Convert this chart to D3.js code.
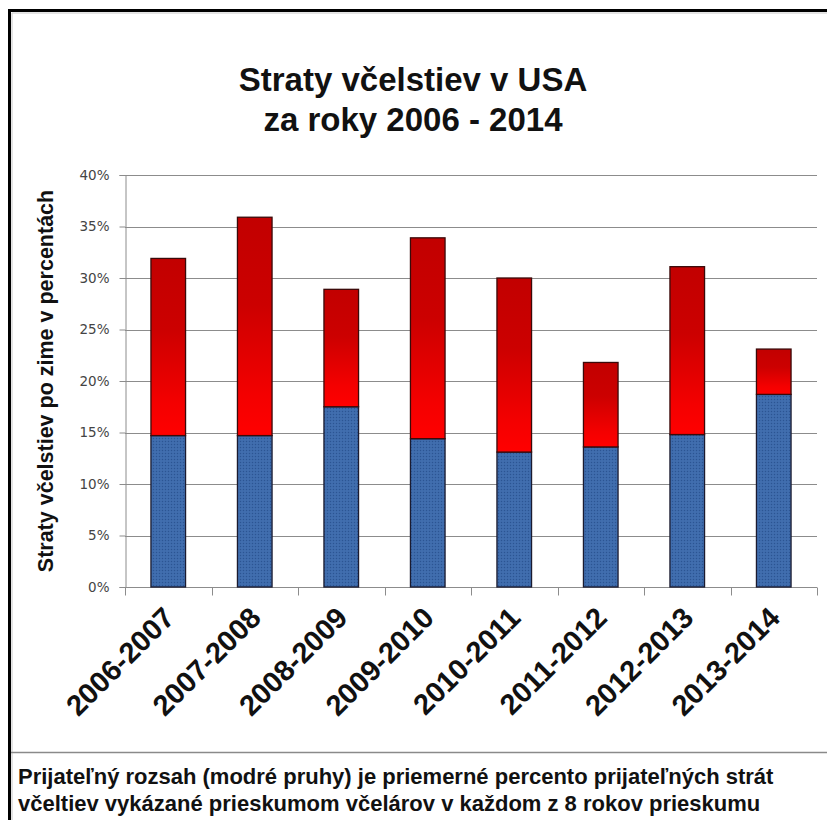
<!DOCTYPE html>
<html>
<head>
<meta charset="utf-8">
<script src="https://cdn.jsdelivr.net/npm/d3@7"></script>
<style>
  body { margin: 0; background: #fff; }
  svg { display: block; }
</style>
</head>
<body>
<div id="chart"></div>
<script>
// data (percent)
const seasons = ["2006-2007", "2007-2008", "2008-2009", "2009-2010",
                 "2010-2011", "2011-2012", "2012-2013", "2013-2014"];
const acceptableLoss = [14.7, 14.7, 17.5, 14.4, 13.1, 13.6, 14.8, 18.7];
const totalLoss = [31.9, 35.9, 28.9, 33.9, 30.0, 21.8, 31.1, 23.1];
const yTicks = [0, 5, 10, 15, 20, 25, 30, 35, 40];

const titleLines = ["Straty včelstiev v USA", "za roky 2006 - 2014"];
const yTitle = "Straty včelstiev po zime v percentách";
const noteLines = [
  "Prijateľný rozsah (modré pruhy) je priemerné percento prijateľných strát",
  "včeltiev vykázané prieskumom včelárov v každom z 8 rokov prieskumu"
];

const width = 827, height = 820;
const margin = { top: 175, right: 10, bottom: 233, left: 125 };

const svg = d3.select("#chart")
  .append("svg")
    .attr("width", width)
    .attr("height", height);

const defs = svg.append("defs");

// red part: dark on top, bright red lower down
const grad = defs.append("linearGradient")
    .attr("id", "redGrad")
    .attr("x1", 0).attr("y1", 0).attr("x2", 0).attr("y2", 1);
grad.append("stop").attr("offset", "0%").attr("stop-color", "#c20000");
grad.append("stop").attr("offset", "40%").attr("stop-color", "#cc0000");
grad.append("stop").attr("offset", "82%").attr("stop-color", "#f40000");
grad.append("stop").attr("offset", "100%").attr("stop-color", "#ff0000");

// blue part has a fine dotted texture
const pat = defs.append("pattern")
    .attr("id", "bluePat")
    .attr("patternUnits", "userSpaceOnUse")
    .attr("width", 3).attr("height", 3);
pat.append("rect").attr("width", 3).attr("height", 3).attr("fill", "#3d6aab");
pat.append("rect").attr("x", 0).attr("y", 0).attr("width", 1).attr("height", 1).attr("fill", "#2c5592");
pat.append("rect").attr("x", 1.5).attr("y", 1.5).attr("width", 1).attr("height", 1).attr("fill", "#4a78b8");

// outer frame (black, with a light inner edge)
svg.append("path")
  .attr("d", `M9.5,${height} V10.5 H${width}`)
  .attr("fill", "none").attr("stroke", "#000").attr("stroke-width", 3);
svg.append("path")
  .attr("d", `M12,${height} V13 H${width}`)
  .attr("fill", "none").attr("stroke", "#c8c8c8").attr("stroke-width", 1);

// separator above the note
svg.append("line")
  .attr("x1", 11).attr("x2", width)
  .attr("y1", 752.5).attr("y2", 752.5)
  .attr("stroke", "#8a8a8a").attr("stroke-width", 1.5);

// title
svg.append("text")
  .attr("text-anchor", "middle")
  .style("font-family", "Liberation Sans, Arial, sans-serif")
  .style("font-weight", "bold")
  .style("font-size", "33px")
  .attr("fill", "#111")
  .selectAll("tspan")
  .data(titleLines)
  .join("tspan")
    .attr("x", 413)
    .attr("y", (d, i) => 91 + i * 40)
    .text(d => d);

const x = d3.scaleBand()
  .domain(seasons)
  .range([margin.left, width - margin.right])
  .paddingInner(0.6)
  .paddingOuter(0.3);

const y = d3.scaleLinear()
  .domain([0, 40])
  .range([height - margin.bottom, margin.top]);

const step = x.step();
const x0 = margin.left, x1 = width - margin.right;

// gridlines
svg.append("g")
  .selectAll("line")
  .data(yTicks.slice(1))
  .join("line")
    .attr("x1", x0).attr("x2", x1)
    .attr("y1", d => Math.round(y(d)) + 0.5)
    .attr("y2", d => Math.round(y(d)) + 0.5)
    .attr("stroke", "#8c8c8c");

// y axis
const yAxis = svg.append("g")
  .attr("transform", `translate(${x0 + 0.5},0)`)
  .call(d3.axisLeft(y).tickValues(yTicks).tickSize(6).tickPadding(10)
    .tickFormat(d => d + "%"));
yAxis.select(".domain").attr("stroke", "#8c8c8c");
yAxis.selectAll(".tick line").attr("stroke", "#8c8c8c");
yAxis.selectAll(".tick text")
  .style("font-family", "DejaVu Sans, Verdana, sans-serif")
  .style("font-size", "13.5px")
  .attr("fill", "#444");

// x axis: ticks at category boundaries
const xAxisY = Math.round(y(0)) + 0.5;
svg.append("line")
  .attr("x1", x0).attr("x2", x1)
  .attr("y1", xAxisY).attr("y2", xAxisY)
  .attr("stroke", "#8c8c8c");
svg.append("g")
  .selectAll("line")
  .data(d3.range(seasons.length + 1))
  .join("line")
    .attr("x1", i => Math.round(x0 + i * step) + 0.5)
    .attr("x2", i => Math.round(x0 + i * step) + 0.5)
    .attr("y1", xAxisY).attr("y2", xAxisY + 8)
    .attr("stroke", "#8c8c8c");

// x labels
svg.append("g")
  .selectAll("text")
  .data(seasons)
  .join("text")
    .attr("transform", d => `translate(${x(d) + x.bandwidth() / 2 + 8},${xAxisY + 32}) rotate(-45)`)
    .attr("text-anchor", "end")
    .style("font-family", "Liberation Sans, Arial, sans-serif")
    .style("font-weight", "bold")
    .style("font-size", "29px")
    .attr("fill", "#111")
    .text(d => d);

// bars
const bars = svg.append("g");
bars.selectAll("rect.blue")
  .data(seasons)
  .join("rect")
    .attr("class", "blue")
    .attr("x", d => x(d))
    .attr("width", x.bandwidth())
    .attr("y", (d, i) => y(acceptableLoss[i]))
    .attr("height", (d, i) => y(0) - y(acceptableLoss[i]))
    .attr("fill", "url(#bluePat)")
    .attr("stroke", "#1b1b30")
    .attr("stroke-width", 1.3);
bars.selectAll("rect.red")
  .data(seasons)
  .join("rect")
    .attr("class", "red")
    .attr("x", d => x(d))
    .attr("width", x.bandwidth())
    .attr("y", (d, i) => y(totalLoss[i]))
    .attr("height", (d, i) => y(acceptableLoss[i]) - y(totalLoss[i]))
    .attr("fill", "url(#redGrad)")
    .attr("stroke", "#3a0a0a")
    .attr("stroke-width", 1.3);

// y axis title
svg.append("text")
  .attr("transform", `translate(53,${(y(0) + y(40)) / 2}) rotate(-90)`)
  .attr("text-anchor", "middle")
  .style("font-family", "Liberation Sans, Arial, sans-serif")
  .style("font-weight", "bold")
  .style("font-size", "21.5px")
  .attr("fill", "#111")
  .text(yTitle);

// note under the chart
svg.append("text")
  .style("font-family", "Liberation Sans, Arial, sans-serif")
  .style("font-weight", "bold")
  .style("font-size", "22px")
  .attr("fill", "#111")
  .selectAll("tspan")
  .data(noteLines)
  .join("tspan")
    .attr("x", 18)
    .attr("y", (d, i) => 784 + i * 27)
    .text(d => d);
</script>
</body>
</html>
